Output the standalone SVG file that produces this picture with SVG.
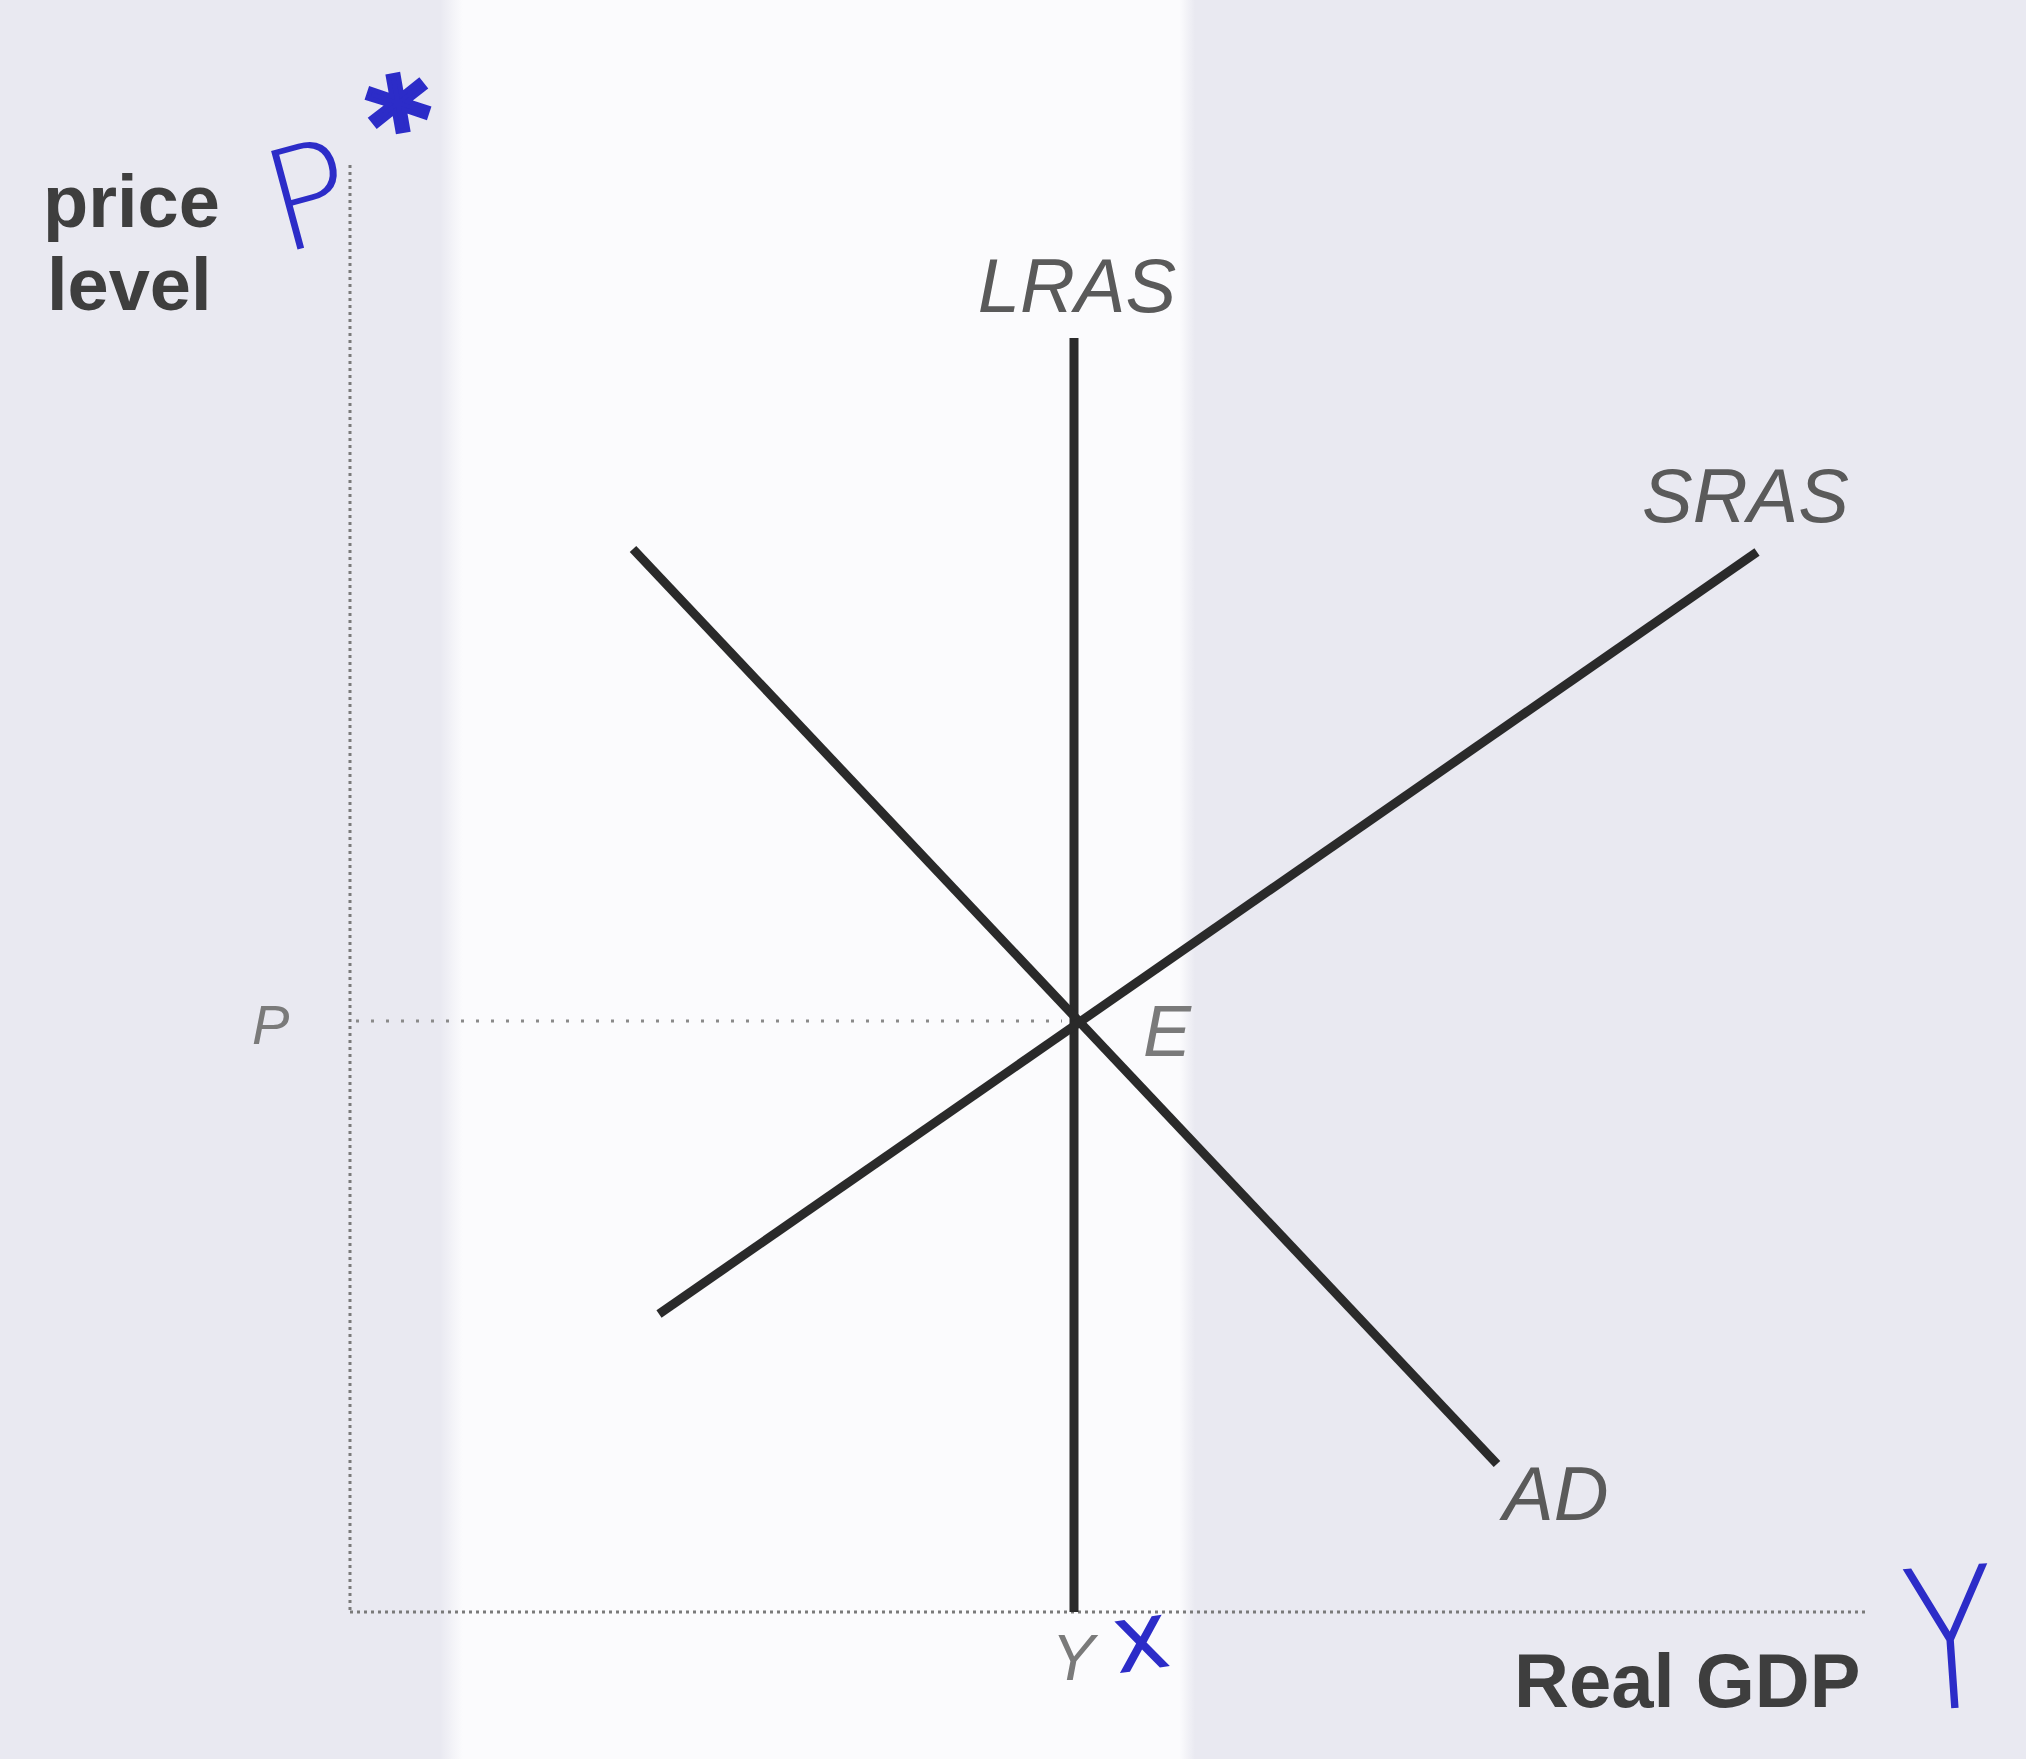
<svg xmlns="http://www.w3.org/2000/svg" width="2026" height="1759" viewBox="0 0 2026 1759">
<style>
.curve{stroke:#2a2a2a;stroke-width:9;stroke-linecap:butt;fill:none}
.axis{stroke:#7a7a7a;stroke-width:3;fill:none;stroke-dasharray:3 4}
.guide{stroke:#8a8a8a;stroke-width:3;fill:none;stroke-dasharray:3 12}
.lbl{font-family:"Liberation Sans",Arial,sans-serif;font-style:italic;fill:#5a5a5a}
.ax{font-family:"Liberation Sans",Arial,sans-serif;font-weight:bold;fill:#3e3e3e}
.ink{font-family:"DejaVu Sans","Liberation Sans",sans-serif;fill:#2c2cc8}
</style>
<defs>
<linearGradient id="band" x1="0" y1="0" x2="1" y2="0">
<stop offset="0" stop-color="#fbfbfd" stop-opacity="0"/>
<stop offset="0.03" stop-color="#fbfbfd"/>
<stop offset="0.98" stop-color="#fbfbfd"/>
<stop offset="1" stop-color="#fbfbfd" stop-opacity="0"/>
</linearGradient>
</defs>
<g id="paper">
<rect x="0" y="0" width="2026" height="1759" fill="#e9e9f1"/>
<rect x="440" y="0" width="755" height="1759" fill="url(#band)"/>
</g>
<g id="axes">
<line class="axis" x1="350" y1="165" x2="350" y2="1612"/>
<line class="axis" x1="350" y1="1612" x2="1867" y2="1612"/>
<line class="guide" x1="356" y1="1021" x2="1062" y2="1021"/>
</g>
<g id="connectors">
<line id="LRAS-line" class="curve" x1="1074" y1="338" x2="1074" y2="1612"/>
<line id="AD-line" class="curve" x1="633" y1="549" x2="1497" y2="1464"/>
<line id="SRAS-line" class="curve" x1="659" y1="1314" x2="1757" y2="552"/>
</g>
<g id="node-price-level"><text class="ax" font-size="74"><tspan x="43" y="227">price</tspan><tspan x="47" y="310">level</tspan></text></g>
<g id="node-LRAS"><text class="lbl" font-size="76" x="1077" y="312" text-anchor="middle">LRAS</text></g>
<g id="node-SRAS"><text class="lbl" font-size="76" x="1642" y="522">SRAS</text></g>
<g id="node-AD"><text class="lbl" font-size="76" x="1503" y="1520">AD</text></g>
<g id="node-E"><text class="lbl" font-size="72" x="1143" y="1056" style="fill:#7a7a7a">E</text></g>
<g id="node-P"><text class="lbl" font-size="56" x="252" y="1044" style="fill:#7a7a7a">P</text></g>
<g id="node-Y"><text class="lbl" font-size="64" x="1073" y="1680" text-anchor="middle" style="fill:#7a7a7a">Y</text></g>
<g id="node-RealGDP"><text class="ax" font-size="76" x="1514" y="1707">Real GDP</text></g>
<g id="handwriting">
<text class="ink" font-size="140" font-weight="200" transform="translate(281,254) rotate(-15)">P</text>
<text class="ink" font-size="120" font-weight="bold" x="366" y="165" stroke="#2c2cc8" stroke-width="5" transform="rotate(-10 394 100)">*</text>
<text class="ink" font-size="95" x="1114" y="1670" transform="rotate(-8 1140 1648)">x</text>
<text class="ink" font-size="150" font-weight="200" x="0" y="0" text-anchor="middle" transform="translate(1955,1708) rotate(-4) scale(1,1.3)">Y</text>
</g>
</svg>
